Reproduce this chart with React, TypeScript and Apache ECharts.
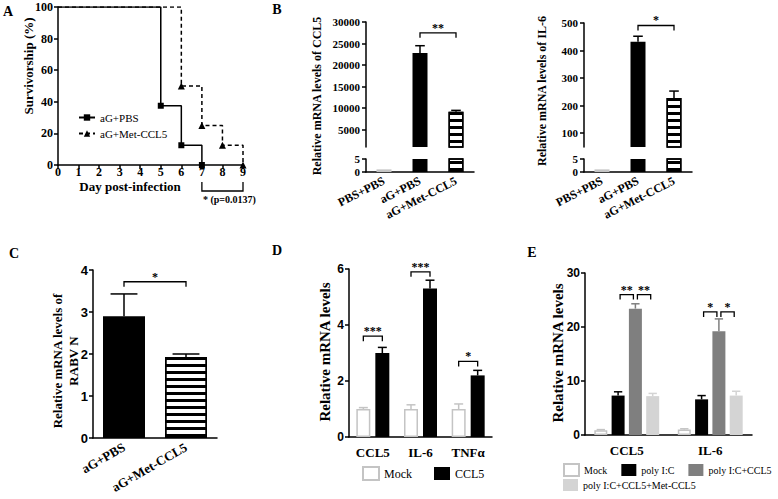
import React, { useEffect, useRef } from "react";
import * as echarts from "echarts";

const SERIF = "Liberation Serif";
const SANS = "Liberation Sans";

// A: survival after infection
const daysPBS = [0, 5, 6, 7];
const survPBS = [100, 37.5, 12.5, 0];
const daysMet = [0, 6, 7, 8, 9];
const survMet = [100, 50, 25, 12.5, 0];
const sigA = [7, 9];
const pValueLabel = "* (p=0.0137)";

// B: CCL5 and IL-6 mRNA (broken axes)
const groupsB = ["PBS+PBS", "aG+PBS", "aG+Met-CCL5"];
const ccl5B = [1.0, 22800, 9200];
const ccl5BErr = [0, 1700, 300];
const il6B = [1.0, 432, 228];
const il6BErr = [0, 20, 25];
const ccl5Ticks = [5000, 10000, 15000, 20000, 25000, 30000];
const il6Ticks = [100, 200, 300, 400, 500];

// C: RABV N
const groupsC = ["aG+PBS", "aG+Met-CCL5"];
const rabvN = [2.9, 1.93];
const rabvNErr = [0.53, 0.07];

// D
const genesD = ["CCL5", "IL-6", "TNFα"];
const mockD = [1.0, 1.0, 1.0];
const mockDErr = [0.05, 0.15, 0.18];
const ccl5D = [3.0, 5.3, 2.2];
const ccl5DErr = [0.2, 0.3, 0.18];

// E
const genesE = ["CCL5", "IL-6"];
const mockE = [0.9, 1.0];
const mockEErr = [0.1, 0.15];
const polyE = [7.3, 6.6];
const polyEErr = [0.7, 0.7];
const polyCclE = [23.4, 19.2];
const polyCclEErr = [0.9, 2.3];
const polyMetE = [7.2, 7.3];
const polyMetEErr = [0.5, 0.8];

// significance brackets: [cat1, slot1, cat2, slot2, y, label, inset]
const sigB1 = [[1, 0, 2, 0, 27500, "**", 0]];
const sigB2 = [[1, 0, 2, 0, 491, "*", 0]];
const sigC = [[0, 0, 1, 0, 3.72, "*", 0]];
const sigD = [
  [0, 0, 0, 1, 3.6, "***", 0],
  [1, 0, 1, 1, 5.9, "***", 0],
  [2, 0, 2, 1, 2.7, "*", 0],
];
const sigE = [
  [0, 1, 0, 2, 26, "**", 2],
  [0, 2, 0, 3, 26, "**", 2],
  [1, 1, 1, 2, 22.8, "*", 2],
  [1, 2, 1, 3, 22.8, "*", 2],
];

const serifBold = (size: number) => ({ fontFamily: SERIF, fontWeight: "bold", fontSize: size, color: "#000" });
const sansBold = (size: number) => ({ fontFamily: SANS, fontWeight: "bold", fontSize: size, color: "#000" });
const axisLine = { show: true, lineStyle: { color: "#000", width: 1.5 } };
const tick = { show: true, length: 4, lineStyle: { color: "#000", width: 1.5 } };
const noSplit = { show: false };
const plain = (v: number) => String(v);

const stripes = {
  symbol: "rect",
  symbolSize: 1,
  color: "#000",
  dashArrayX: [1, 0],
  dashArrayY: [2.2, 3.8],
  rotation: 0,
};
const mockStyle = { color: "#fff", borderColor: "#c4c4c4", borderWidth: 1.5 };
const blackStyle = { color: "#000" };
const stripeStyle = { color: "#fff", borderColor: "#000", borderWidth: 1.5, decal: stripes };
const bStyles = [mockStyle, blackStyle, stripeStyle];

const barCenter = (api: any, cat: number, slot: number, n: number, bw: number, gap: number) => {
  const c = api.coord([cat, 0])[0];
  const gw = n * bw + (n - 1) * gap;
  return c - gw / 2 + bw / 2 + slot * (bw + gap);
};

const errSeries = (idx: number, vals: number[], errs: number[], slot: number, n: number, bw: number, gap: number, color: string) => ({
  type: "custom",
  xAxisIndex: idx,
  yAxisIndex: idx,
  silent: true,
  z: 3,
  data: vals.map((v, i) => [i, v, errs[i]]),
  renderItem: (params: any, api: any) => {
    const cat = api.value(0);
    const v = api.value(1);
    const e = api.value(2);
    if (!e) return null;
    const x = barCenter(api, cat, slot, n, bw, gap);
    const y0 = api.coord([cat, v])[1];
    const y1 = api.coord([cat, v + e])[1];
    const cap = Math.max(4, bw * 0.32);
    const st = { stroke: color, lineWidth: 1.5 };
    return {
      type: "group",
      children: [
        { type: "line", shape: { x1: x, y1: y0, x2: x, y2: y1 }, style: st },
        { type: "line", shape: { x1: x - cap, y1: y1, x2: x + cap, y2: y1 }, style: st },
      ],
    };
  },
});

const sigSeries = (idx: number, sig: any[], n: number, bw: number, gap: number) => ({
  type: "custom",
  xAxisIndex: idx,
  yAxisIndex: idx,
  silent: true,
  z: 4,
  data: sig.map((s) => [s[0], s[4]]),
  renderItem: (params: any, api: any) => {
    const [c1, s1, c2, s2, y, label, inset] = sig[params.dataIndex];
    const xa = barCenter(api, c1, s1, n, bw, gap) + inset;
    const xb = barCenter(api, c2, s2, n, bw, gap) - inset;
    const yy = api.coord([c1, y])[1];
    return {
      type: "group",
      children: [
        {
          type: "polyline",
          shape: { points: [[xa, yy + 5], [xa, yy], [xb, yy], [xb, yy + 5]] },
          style: { stroke: "#000", lineWidth: 1.3, fill: "none" },
        },
        {
          type: "text",
          x: (xa + xb) / 2,
          y: yy + 1,
          style: { text: label, fill: "#000", fontFamily: SERIF, fontWeight: "bold", fontSize: 12, align: "center", verticalAlign: "bottom" },
        },
      ],
    };
  },
});

const lineData = (xs: number[], ys: number[]) =>
  xs.map((x, i) => (i === 0 ? { value: [x, ys[i]], symbol: "none" } : [x, ys[i]]));

const brokenBars = (upper: number, lower: number, vals: number[], min: number) => [
  {
    type: "bar",
    xAxisIndex: upper,
    yAxisIndex: upper,
    barWidth: 15,
    data: vals.map((v, i) => (v > min ? { value: v, itemStyle: bStyles[i] } : "-")),
  },
  {
    type: "bar",
    xAxisIndex: lower,
    yAxisIndex: lower,
    barWidth: 15,
    data: vals.map((v, i) => ({ value: v, itemStyle: bStyles[i] })),
  },
];

const vText = (text: string, x: number, y: number, size: number) => ({
  type: "text",
  x,
  y,
  rotation: Math.PI / 2,
  style: { text, fill: "#000", fontFamily: SERIF, fontWeight: "bold", fontSize: size, align: "center", verticalAlign: "middle", lineHeight: size + 3 },
});
const hText = (text: string, x: number, y: number, size: number) => ({
  type: "text",
  x,
  y,
  style: { text, fill: "#000", fontFamily: SERIF, fontWeight: "bold", fontSize: size, align: "center", verticalAlign: "middle" },
});

const gapD = 5;
const gapE = 4.3;

const rotLabel = (size: number, rotate: number) => ({
  ...serifBold(size),
  rotate,
  margin: 8,
  interval: 0,
  hideOverlap: false,
});

const buildOption = () => ({
  animation: false,
  backgroundColor: "#fff",
  textStyle: { fontFamily: SERIF },
  grid: [
    { left: 58, top: 7, width: 185, height: 158 },
    { left: 366, top: 22, width: 108, height: 125 },
    { left: 366, top: 159, width: 108, height: 13 },
    { left: 584, top: 23, width: 108, height: 124 },
    { left: 584, top: 159, width: 108, height: 13 },
    { left: 93, top: 270, width: 124, height: 168 },
    { left: 349, top: 269, width: 143, height: 168 },
    { left: 585, top: 273, width: 167, height: 162 },
  ].map((g) => ({ ...g, outerBoundsMode: "none" })),
  xAxis: [
    { gridIndex: 0, type: "value", min: 0, max: 9, interval: 1, axisLine, axisTick: tick, axisLabel: { ...serifBold(12), margin: 1 }, splitLine: noSplit },
    { gridIndex: 1, type: "category", data: groupsB, show: false },
    { gridIndex: 2, type: "category", data: groupsB, axisLine, axisTick: { show: false }, axisLabel: rotLabel(12, 27) },
    { gridIndex: 3, type: "category", data: groupsB, show: false },
    { gridIndex: 4, type: "category", data: groupsB, axisLine, axisTick: { show: false }, axisLabel: rotLabel(12, 27) },
    { gridIndex: 5, type: "category", data: groupsC, axisLine, axisTick: { show: false }, axisLabel: rotLabel(13, 30) },
    { gridIndex: 6, type: "category", data: genesD, axisLine, axisTick: { show: false }, axisLabel: { ...serifBold(13), margin: 9, interval: 0 } },
    { gridIndex: 7, type: "category", data: genesE, axisLine, axisTick: { show: false }, axisLabel: { ...serifBold(13), margin: 9, interval: 0 } },
  ],
  yAxis: [
    { gridIndex: 0, type: "value", min: 0, max: 100, interval: 20, axisLine, axisTick: tick, axisLabel: { ...serifBold(12), margin: 5 }, splitLine: noSplit },
    {
      gridIndex: 1, type: "value", min: 1000, max: 30000, axisLine,
      axisTick: { ...tick, customValues: ccl5Ticks },
      axisLabel: { ...serifBold(11), margin: 6, customValues: ccl5Ticks, formatter: plain },
      splitLine: noSplit,
    },
    { gridIndex: 2, type: "value", min: 0, max: 5, interval: 5, axisLine, axisTick: tick, axisLabel: { ...serifBold(11), margin: 6 }, splitLine: noSplit },
    {
      gridIndex: 3, type: "value", min: 50, max: 500, axisLine,
      axisTick: { ...tick, customValues: il6Ticks },
      axisLabel: { ...serifBold(11), margin: 6, customValues: il6Ticks, formatter: plain },
      splitLine: noSplit,
    },
    { gridIndex: 4, type: "value", min: 0, max: 5, interval: 5, axisLine, axisTick: tick, axisLabel: { ...serifBold(11), margin: 6 }, splitLine: noSplit },
    { gridIndex: 5, type: "value", min: 0, max: 4, interval: 1, axisLine, axisTick: tick, axisLabel: { ...sansBold(13), margin: 5 }, splitLine: noSplit },
    { gridIndex: 6, type: "value", min: 0, max: 6, interval: 2, axisLine, axisTick: tick, axisLabel: { ...sansBold(12), margin: 5 }, splitLine: noSplit },
    { gridIndex: 7, type: "value", min: 0, max: 30, interval: 10, axisLine, axisTick: tick, axisLabel: { ...sansBold(12), margin: 5 }, splitLine: noSplit },
  ],
  legend: [
    {
      data: ["aG+PBS", "aG+Met-CCL5"],
      orient: "vertical",
      left: 73,
      top: 107,
      itemWidth: 16,
      itemHeight: 8,
      itemGap: 5,
      textStyle: { fontFamily: SERIF, fontSize: 11, color: "#000" },
    },
    {
      data: ["Mock", "CCL5"],
      left: 357,
      top: 461,
      icon: "rect",
      itemWidth: 16,
      itemHeight: 13,
      itemGap: 22,
      textStyle: { fontFamily: SERIF, fontSize: 12, color: "#000" },
    },
    {
      data: ["Mock", "poly I:C", "poly I:C+CCL5"],
      left: 558,
      top: 458,
      icon: "rect",
      itemWidth: 15,
      itemHeight: 12,
      itemGap: 14,
      textStyle: { fontFamily: SERIF, fontSize: 10, color: "#000" },
    },
    {
      data: ["poly I:C+CCL5+Met-CCL5"],
      left: 558,
      top: 474,
      icon: "rect",
      itemWidth: 15,
      itemHeight: 12,
      textStyle: { fontFamily: SERIF, fontSize: 10, color: "#000" },
    },
  ],
  graphic: [
    hText("A", 8, 11, 14),
    hText("B", 277, 9, 14),
    hText("C", 14, 253, 14),
    hText("D", 277, 250, 14),
    hText("E", 532, 252, 14),
    vText("Survivorship (%)", 28, 66, 13),
    hText("Day post-infection", 130, 186, 13),
    vText("Relative mRNA levels of CCL5", 317, 96, 12),
    vText("Relative mRNA levels of IL-6", 542, 91, 12),
    vText("Relative mRNA levels of\nRABV N", 65, 361, 13),
    vText("Relative mRNA levels", 325, 352, 15),
    vText("Relative mRNA levels", 558, 353, 15),
  ],
  series: [
    // A
    {
      type: "line",
      name: "aG+Met-CCL5",
      xAxisIndex: 0,
      yAxisIndex: 0,
      step: "end",
      data: lineData(daysMet, survMet),
      symbol: "triangle",
      symbolSize: 7,
      lineStyle: { color: "#000", width: 1.5, type: [4, 3] },
      itemStyle: { color: "#000" },
      z: 2,
    },
    {
      type: "line",
      name: "aG+PBS",
      xAxisIndex: 0,
      yAxisIndex: 0,
      step: "end",
      data: lineData(daysPBS, survPBS),
      symbol: "rect",
      symbolSize: 6,
      lineStyle: { color: "#000", width: 1.5 },
      itemStyle: { color: "#000" },
      z: 3,
    },
    {
      type: "custom",
      xAxisIndex: 0,
      yAxisIndex: 0,
      silent: true,
      data: [[sigA[0], 0]],
      renderItem: (params: any, api: any) => {
        const [x1] = api.coord([sigA[0], 0]);
        const [x2, y0] = api.coord([sigA[1], 0]);
        return {
          type: "group",
          children: [
            {
              type: "polyline",
              shape: { points: [[x1, y0 + 17], [x1, y0 + 26], [x2, y0 + 26], [x2, y0 + 17]] },
              style: { stroke: "#000", lineWidth: 1.3, fill: "none" },
            },
            {
              type: "text",
              x: x1 + 1,
              y: y0 + 34,
              style: { text: pValueLabel, fill: "#000", fontFamily: SERIF, fontWeight: "bold", fontSize: 10, align: "left", verticalAlign: "middle" },
            },
          ],
        };
      },
    },
    // B CCL5
    ...brokenBars(1, 2, ccl5B, 1000),
    errSeries(1, ccl5B, ccl5BErr, 0, 1, 15, 0, "#000"),
    sigSeries(1, sigB1, 1, 15, 0),
    // B IL-6
    ...brokenBars(3, 4, il6B, 50),
    errSeries(3, il6B, il6BErr, 0, 1, 15, 0, "#000"),
    sigSeries(3, sigB2, 1, 15, 0),
    // C
    {
      type: "bar",
      xAxisIndex: 5,
      yAxisIndex: 5,
      barWidth: 42,
      data: rabvN.map((v, i) => ({ value: v, itemStyle: i === 0 ? blackStyle : stripeStyle })),
    },
    errSeries(5, rabvN, rabvNErr, 0, 1, 42, 0, "#000"),
    sigSeries(5, sigC, 1, 42, 0),
    // D
    { type: "bar", name: "Mock", xAxisIndex: 6, yAxisIndex: 6, barWidth: 14, barGap: `${(gapD / 14) * 100}%`, data: mockD, itemStyle: mockStyle },
    { type: "bar", name: "CCL5", xAxisIndex: 6, yAxisIndex: 6, barWidth: 14, barGap: `${(gapD / 14) * 100}%`, data: ccl5D, itemStyle: blackStyle },
    errSeries(6, mockD, mockDErr, 0, 2, 14, gapD, "#c4c4c4"),
    errSeries(6, ccl5D, ccl5DErr, 1, 2, 14, gapD, "#000"),
    sigSeries(6, sigD, 2, 14, gapD),
    // E
    { type: "bar", name: "Mock", xAxisIndex: 7, yAxisIndex: 7, barWidth: 13, barGap: `${(gapE / 13) * 100}%`, data: mockE, itemStyle: mockStyle },
    { type: "bar", name: "poly I:C", xAxisIndex: 7, yAxisIndex: 7, barWidth: 13, barGap: `${(gapE / 13) * 100}%`, data: polyE, itemStyle: { color: "#000" } },
    { type: "bar", name: "poly I:C+CCL5", xAxisIndex: 7, yAxisIndex: 7, barWidth: 13, barGap: `${(gapE / 13) * 100}%`, data: polyCclE, itemStyle: { color: "#7f7f7f" } },
    { type: "bar", name: "poly I:C+CCL5+Met-CCL5", xAxisIndex: 7, yAxisIndex: 7, barWidth: 13, barGap: `${(gapE / 13) * 100}%`, data: polyMetE, itemStyle: { color: "#d4d4d4" } },
    errSeries(7, mockE, mockEErr, 0, 4, 13, gapE, "#c4c4c4"),
    errSeries(7, polyE, polyEErr, 1, 4, 13, gapE, "#000"),
    errSeries(7, polyCclE, polyCclEErr, 2, 4, 13, gapE, "#7f7f7f"),
    errSeries(7, polyMetE, polyMetEErr, 3, 4, 13, gapE, "#d4d4d4"),
    sigSeries(7, sigE, 4, 13, gapE),
  ],
});

export default function App() {
  const ref = useRef<HTMLDivElement>(null);

  useEffect(() => {
    if (!ref.current) return;
    const chart = echarts.init(ref.current, null, { renderer: "svg" });
    chart.setOption(buildOption() as any);
    return () => {
      chart.dispose();
    };
  }, []);

  return (
    <div
      ref={ref}
      style={{ position: "fixed", left: 0, top: 0, width: 778, height: 499, background: "#fff" }}
    />
  );
}
